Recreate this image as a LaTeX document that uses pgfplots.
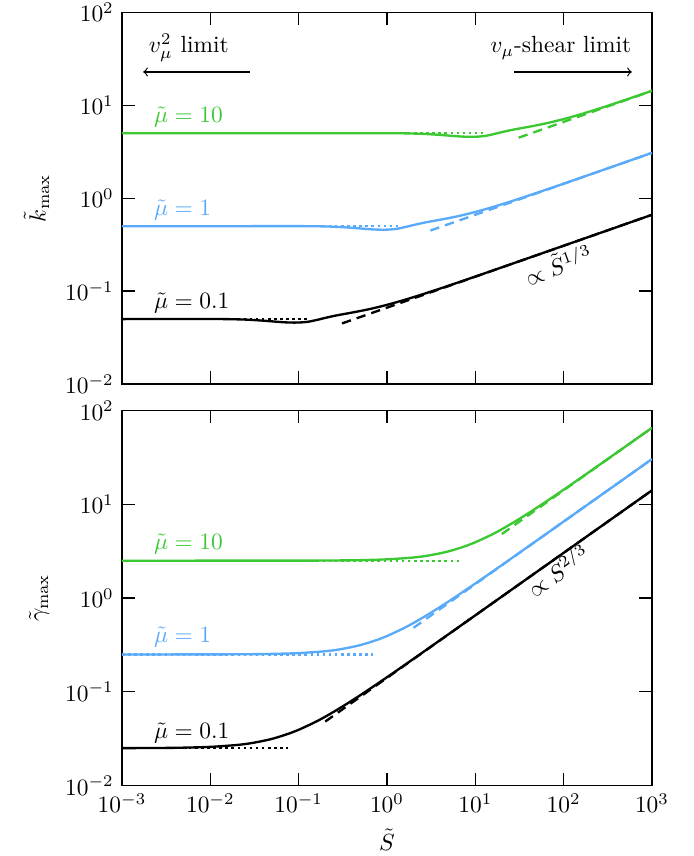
\documentclass[border=0pt]{standalone}
\usepackage{pgfplots}
\pgfplotsset{compat=1.18}
\definecolor{mugreen}{RGB}{60,200,50}
\definecolor{mublue}{RGB}{90,170,250}

\tikzset{
  mysol/.style={line width=1pt, smooth},
  mydot/.style={line width=1pt, dash pattern=on 1.1pt off 1.5pt},
  mydsh/.style={line width=1pt, dash pattern=on 4pt off 2.6pt},
}

\begin{document}
\begin{tikzpicture}

% top panel: k_max
\begin{axis}[
  scale only axis, width=226.5pt, height=158.78pt,
  at={(52.14pt,-164.12pt)}, anchor=south west,
  xmode=log, ymode=log,
  xmin=1e-3, xmax=1e3, ymin=1e-2, ymax=1e2,
  xtick={1e-3,1e-2,1e-1,1,1e1,1e2,1e3},
  ytick={1e-2,1e-1,1,1e1,1e2},
  xminorticks=false, yminorticks=false,
  axis line style={line width=0.8pt},
  major tick length=5.5pt,
  tick style={line width=0.6pt, black},
  xticklabels={},
  ylabel={$\tilde{k}_{\max}$}]

  % small-S limit (dotted)
  \addplot[mydot, black] coordinates {(0.001,0.05) (0.13,0.05)};
  \addplot[mydot, mublue] coordinates {(0.001,0.5) (1.33,0.5)};
  \addplot[mydot, mugreen] coordinates {(0.001,5) (13.3,5)};

  % large-S limit (dashed)
  \addplot[mydsh, black] coordinates {(0.31,0.0449) (1000,0.6634)};
  \addplot[mydsh, mublue] coordinates {(3.1,0.449) (1000,3.08)};
  \addplot[mydsh, mugreen] coordinates {(31,4.49) (1000,14.30)};

  % full solutions
  \addplot[mysol, black] coordinates {
    (0.001,0.05) (0.01,0.05004) (0.01585,0.04991) (0.02512,0.04936)
    (0.03981,0.04807) (0.0631,0.04643) (0.07943,0.04591) (0.1,0.04589)
    (0.1259,0.04671) (0.1585,0.0488) (0.1995,0.05146) (0.2512,0.05405)
    (0.3162,0.05637) (0.3981,0.05863) (0.631,0.06397) (1,0.07116)
    (1.585,0.08054) (2.512,0.09226) (3.981,0.10649) (6.31,0.12346)
    (10,0.1435) (31.62,0.21) (100,0.308) (316.2,0.4521) (1000,0.6636)};
  \addplot[mysol, mublue] coordinates {
    (0.001,0.5) (0.1,0.5004) (0.1585,0.4991) (0.2512,0.4936)
    (0.3981,0.4807) (0.631,0.4643) (0.7943,0.4591) (1,0.4589)
    (1.259,0.4671) (1.585,0.488) (1.995,0.5146) (2.512,0.5405)
    (3.162,0.5637) (3.981,0.5863) (6.31,0.6397) (10,0.7116)
    (15.85,0.8054) (25.12,0.9226) (39.81,1.0649) (63.1,1.2346)
    (100,1.435) (316.2,2.1) (1000,3.08)};
  \addplot[mysol, mugreen] coordinates {
    (0.001,5) (1,5.004) (1.585,4.991) (2.512,4.936) (3.981,4.807)
    (6.31,4.643) (7.943,4.591) (10,4.589) (12.59,4.671) (15.85,4.88)
    (19.95,5.146) (25.12,5.405) (31.62,5.637) (39.81,5.863) (63.1,6.397)
    (100,7.116) (158.5,8.054) (251.2,9.226) (398.1,10.649) (631,12.346)
    (1000,14.35)};

  \node[anchor=west, text=mugreen] at (rel axis cs:0.045,0.72) {$\tilde\mu = 10$};
  \node[anchor=west, text=mublue] at (rel axis cs:0.045,0.469) {$\tilde\mu = 1$};
  \node[anchor=west] at (rel axis cs:0.045,0.218) {$\tilde\mu = 0.1$};
  \node[rotate=20] at (rel axis cs:0.823,0.323) {$\propto \tilde{S}^{1/3}$};

  \node at (rel axis cs:0.126,0.905) {$v_\mu^2$ limit};
  \draw[->, line width=0.5pt] (rel axis cs:0.242,0.84) -- (rel axis cs:0.04,0.84);
  \node at (rel axis cs:0.828,0.905) {$v_\mu$-shear limit};
  \draw[->, line width=0.5pt] (rel axis cs:0.74,0.84) -- (rel axis cs:0.962,0.84);
\end{axis}

% bottom panel: gamma_max
\begin{axis}[
  scale only axis, width=226.5pt, height=160.28pt,
  at={(52.14pt,-335.72pt)}, anchor=south west,
  xmode=log, ymode=log,
  xmin=1e-3, xmax=1e3, ymin=1e-2, ymax=1e2,
  xtick={1e-3,1e-2,1e-1,1,1e1,1e2,1e3},
  ytick={1e-2,1e-1,1,1e1,1e2},
  xminorticks=false, yminorticks=false,
  axis line style={line width=0.8pt},
  major tick length=5.5pt,
  tick style={line width=0.6pt, black},
  xlabel={$\tilde{S}$}, ylabel={$\tilde{\gamma}_{\max}$}]

  \addplot[mydot, black] coordinates {(0.001,0.025) (0.075,0.025)};
  \addplot[mydot, mublue] coordinates {(0.001,0.25) (0.7,0.25)};
  \addplot[mydot, mugreen] coordinates {(0.001,2.5) (7,2.5)};

  \addplot[mydsh, black] coordinates {(0.2,0.0481) (1000,14.06)};
  \addplot[mydsh, mublue] coordinates {(2,0.481) (1000,30.3)};
  \addplot[mydsh, mugreen] coordinates {(20,4.81) (1000,65.3)};

  \addplot[mysol, black] coordinates {
    (0.001,0.02504) (0.003,0.02517) (0.005,0.02534) (0.01,0.02584)
    (0.02,0.02706) (0.03,0.02845) (0.05,0.03146) (0.08,0.03615)
    (0.1,0.03928) (0.15,0.04692) (0.2,0.0542) (0.3,0.06781) (0.5,0.09206)
    (1,0.14285) (2,0.22465) (5,0.41195) (10,0.6533) (20,1.0366)
    (50,1.909) (100,3.03) (200,4.81) (500,8.86) (1000,14.06)};
  \addplot[mysol, mublue] coordinates {
    (0.001,0.25) (0.01,0.2504) (0.03,0.2517) (0.05,0.2534) (0.1,0.2584)
    (0.2,0.2706) (0.3,0.2845) (0.5,0.3146) (0.8,0.3615) (1,0.3928)
    (1.5,0.4692) (2,0.542) (3,0.6781) (5,0.9206) (10,1.4285) (20,2.2465)
    (50,4.1195) (100,6.533) (200,10.366) (500,19.09) (1000,30.3)};
  \addplot[mysol, mugreen] coordinates {
    (0.001,2.5) (0.1,2.504) (0.3,2.517) (0.5,2.534) (1,2.584) (2,2.706)
    (3,2.845) (5,3.146) (8,3.615) (10,3.928) (15,4.692) (20,5.42)
    (30,6.781) (50,9.206) (100,14.285) (200,22.465) (500,41.195)
    (1000,65.33)};

  \node[anchor=west, text=mugreen] at (rel axis cs:0.045,0.643) {$\tilde\mu = 10$};
  \node[anchor=west, text=mublue] at (rel axis cs:0.045,0.397) {$\tilde\mu = 1$};
  \node[anchor=west] at (rel axis cs:0.045,0.139) {$\tilde\mu = 0.1$};
  \node[rotate=35] at (rel axis cs:0.822,0.575) {$\propto \tilde{S}^{2/3}$};
\end{axis}

\pgfresetboundingbox
\path (0,0) rectangle (296.19pt,-365.85pt);
\end{tikzpicture}
\end{document}
